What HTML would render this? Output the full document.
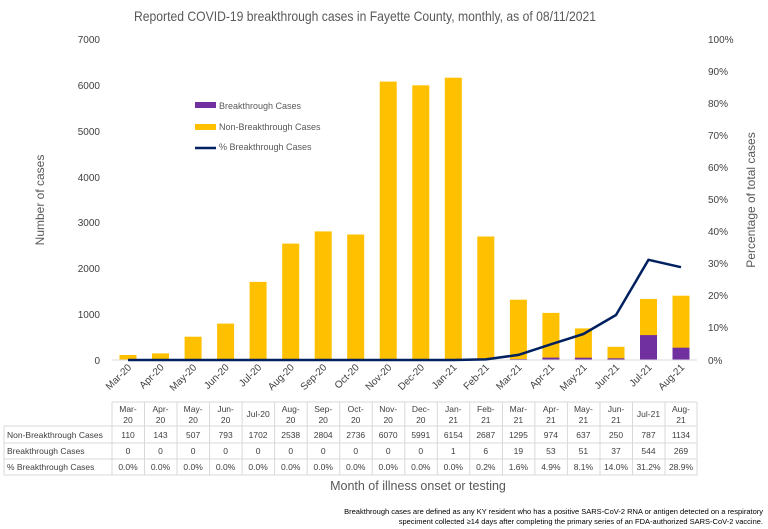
<!DOCTYPE html>
<html><head><meta charset="utf-8"><style>
html,body{margin:0;padding:0;background:#fff;}
svg{display:block;font-family:"Liberation Sans",sans-serif;}
</style></head><body>
<svg width="768" height="529" viewBox="0 0 768 529" xmlns="http://www.w3.org/2000/svg">
<rect width="768" height="529" fill="#fff"/>
<text x="365" y="21" font-size="14" fill="#595959" text-anchor="middle" textLength="462" lengthAdjust="spacingAndGlyphs">Reported COVID-19 breakthrough cases in Fayette County, monthly, as of 08/11/2021</text>
<g font-size="10" fill="#404040" text-anchor="end">
<text x="100" y="43">7000</text><text x="100" y="89">6000</text><text x="100" y="135">5000</text><text x="100" y="181">4000</text><text x="100" y="226">3000</text><text x="100" y="272">2000</text><text x="100" y="318">1000</text><text x="100" y="364">0</text>
</g>
<g font-size="10" fill="#404040">
<text x="708" y="43">100%</text><text x="708" y="75">90%</text><text x="708" y="107">80%</text><text x="708" y="139">70%</text><text x="708" y="171">60%</text><text x="708" y="203">50%</text><text x="708" y="235">40%</text><text x="708" y="267">30%</text><text x="708" y="299">20%</text><text x="708" y="331">10%</text><text x="708" y="364">0%</text>
</g>
<text transform="translate(44,200) rotate(-90)" font-size="12" fill="#595959" text-anchor="middle">Number of cases</text>
<text transform="translate(755,200) rotate(-90)" font-size="12" fill="#595959" text-anchor="middle">Percentage of total cases</text>
<g fill="#FFC000">
<rect x="119.5" y="355" width="17" height="5"/>
<rect x="152" y="353.4" width="17" height="6.6"/>
<rect x="184.6" y="336.7" width="17" height="23.3"/>
<rect x="217.1" y="323.6" width="17" height="36.4"/>
<rect x="249.6" y="281.9" width="17" height="78.1"/>
<rect x="282.2" y="243.6" width="17" height="116.4"/>
<rect x="314.7" y="231.4" width="17" height="128.6"/>
<rect x="347.2" y="234.5" width="17" height="125.5"/>
<rect x="379.7" y="81.6" width="17" height="278.4"/>
<rect x="412.3" y="85.3" width="17" height="274.7"/>
<rect x="444.8" y="77.7" width="17" height="282.3"/>
<rect x="477.3" y="236.5" width="17" height="123.5"/>
<rect x="509.9" y="299.7" width="17" height="60.3"/>
<rect x="542.4" y="312.9" width="17" height="47.1"/>
<rect x="574.9" y="328.4" width="17" height="31.6"/>
<rect x="607.5" y="346.8" width="17" height="13.2"/>
<rect x="640" y="299" width="17" height="61"/>
<rect x="672.5" y="295.7" width="17" height="64.3"/>
</g>
<g fill="#7030A0">
<rect x="509.9" y="359.1" width="17" height="0.9"/>
<rect x="542.4" y="357.6" width="17" height="2.4"/>
<rect x="574.9" y="357.7" width="17" height="2.3"/>
<rect x="607.5" y="358.3" width="17" height="1.7"/>
<rect x="640" y="335.1" width="17" height="24.9"/>
<rect x="672.5" y="347.7" width="17" height="12.3"/>
</g>
<line x1="112" y1="360" x2="697" y2="360" stroke="#d9d9d9" stroke-width="1"/>
<polyline fill="none" stroke="#002060" stroke-width="2.5" stroke-linejoin="round" points="128,360 453.3,360 485.8,359.4 518.4,354.9 550.9,344.3 583.4,334 616,315 648.5,259.8 681,267.2"/>
<g font-size="10" fill="#404040" text-anchor="end">
<text transform="translate(132,368) rotate(-45)">Mar-20</text>
<text transform="translate(164.5,368) rotate(-45)">Apr-20</text>
<text transform="translate(197.1,368) rotate(-45)">May-20</text>
<text transform="translate(229.6,368) rotate(-45)">Jun-20</text>
<text transform="translate(262.1,368) rotate(-45)">Jul-20</text>
<text transform="translate(294.7,368) rotate(-45)">Aug-20</text>
<text transform="translate(327.2,368) rotate(-45)">Sep-20</text>
<text transform="translate(359.7,368) rotate(-45)">Oct-20</text>
<text transform="translate(392.2,368) rotate(-45)">Nov-20</text>
<text transform="translate(424.8,368) rotate(-45)">Dec-20</text>
<text transform="translate(457.3,368) rotate(-45)">Jan-21</text>
<text transform="translate(489.8,368) rotate(-45)">Feb-21</text>
<text transform="translate(522.4,368) rotate(-45)">Mar-21</text>
<text transform="translate(554.9,368) rotate(-45)">Apr-21</text>
<text transform="translate(587.4,368) rotate(-45)">May-21</text>
<text transform="translate(620,368) rotate(-45)">Jun-21</text>
<text transform="translate(652.5,368) rotate(-45)">Jul-21</text>
<text transform="translate(685,368) rotate(-45)">Aug-21</text>
</g>
<rect x="195" y="102" width="21" height="6" fill="#7030A0"/>
<text x="219" y="109" font-size="9" fill="#595959">Breakthrough Cases</text>
<rect x="195" y="124" width="21" height="6" fill="#FFC000"/>
<text x="219" y="130" font-size="9" fill="#595959">Non-Breakthrough Cases</text>
<line x1="195" y1="148" x2="216" y2="148" stroke="#002060" stroke-width="2.5"/>
<text x="219" y="150" font-size="9" fill="#595959">% Breakthrough Cases</text>
<g stroke="#d9d9d9" stroke-width="1" fill="none">
<line x1="112" y1="402" x2="697" y2="402"/>
<line x1="4" y1="426" x2="697" y2="426"/>
<line x1="4" y1="443" x2="697" y2="443"/>
<line x1="4" y1="459" x2="697" y2="459"/>
<line x1="4" y1="475" x2="697" y2="475"/>
<line x1="4" y1="426" x2="4" y2="475"/>
<line x1="112" y1="402" x2="112" y2="475"/><line x1="144.5" y1="402" x2="144.5" y2="475"/><line x1="177" y1="402" x2="177" y2="475"/><line x1="209.6" y1="402" x2="209.6" y2="475"/><line x1="242.1" y1="402" x2="242.1" y2="475"/><line x1="274.6" y1="402" x2="274.6" y2="475"/><line x1="307.2" y1="402" x2="307.2" y2="475"/><line x1="339.7" y1="402" x2="339.7" y2="475"/><line x1="372.2" y1="402" x2="372.2" y2="475"/><line x1="404.8" y1="402" x2="404.8" y2="475"/><line x1="437.3" y1="402" x2="437.3" y2="475"/><line x1="469.8" y1="402" x2="469.8" y2="475"/><line x1="502.4" y1="402" x2="502.4" y2="475"/><line x1="534.9" y1="402" x2="534.9" y2="475"/><line x1="567.4" y1="402" x2="567.4" y2="475"/><line x1="600" y1="402" x2="600" y2="475"/><line x1="632.5" y1="402" x2="632.5" y2="475"/><line x1="665" y1="402" x2="665" y2="475"/><line x1="697" y1="402" x2="697" y2="475"/>
</g>
<g font-size="8.5" fill="#404040" text-anchor="middle">
<text x="128" y="412">Mar-</text><text x="128" y="423">20</text>
<text x="160.5" y="412">Apr-</text><text x="160.5" y="423">20</text>
<text x="193.1" y="412">May-</text><text x="193.1" y="423">20</text>
<text x="225.6" y="412">Jun-</text><text x="225.6" y="423">20</text>
<text x="258.1" y="417">Jul-20</text>
<text x="290.7" y="412">Aug-</text><text x="290.7" y="423">20</text>
<text x="323.2" y="412">Sep-</text><text x="323.2" y="423">20</text>
<text x="355.7" y="412">Oct-</text><text x="355.7" y="423">20</text>
<text x="388.2" y="412">Nov-</text><text x="388.2" y="423">20</text>
<text x="420.8" y="412">Dec-</text><text x="420.8" y="423">20</text>
<text x="453.3" y="412">Jan-</text><text x="453.3" y="423">21</text>
<text x="485.8" y="412">Feb-</text><text x="485.8" y="423">21</text>
<text x="518.4" y="412">Mar-</text><text x="518.4" y="423">21</text>
<text x="550.9" y="412">Apr-</text><text x="550.9" y="423">21</text>
<text x="583.4" y="412">May-</text><text x="583.4" y="423">21</text>
<text x="616" y="412">Jun-</text><text x="616" y="423">21</text>
<text x="648.5" y="417">Jul-21</text>
<text x="681" y="412">Aug-</text><text x="681" y="423">21</text>
</g>
<g font-size="8.5" fill="#404040">
<text x="7" y="438">Non-Breakthrough Cases</text>
<text x="7" y="454">Breakthrough Cases</text>
<text x="7" y="470">% Breakthrough Cases</text>
</g>
<g font-size="8.5" fill="#404040" text-anchor="middle">
<text x="128" y="438">110</text><text x="160.5" y="438">143</text><text x="193.1" y="438">507</text><text x="225.6" y="438">793</text><text x="258.1" y="438">1702</text><text x="290.7" y="438">2538</text><text x="323.2" y="438">2804</text><text x="355.7" y="438">2736</text><text x="388.2" y="438">6070</text><text x="420.8" y="438">5991</text><text x="453.3" y="438">6154</text><text x="485.8" y="438">2687</text><text x="518.4" y="438">1295</text><text x="550.9" y="438">974</text><text x="583.4" y="438">637</text><text x="616" y="438">250</text><text x="648.5" y="438">787</text><text x="681" y="438">1134</text>
<text x="128" y="454">0</text><text x="160.5" y="454">0</text><text x="193.1" y="454">0</text><text x="225.6" y="454">0</text><text x="258.1" y="454">0</text><text x="290.7" y="454">0</text><text x="323.2" y="454">0</text><text x="355.7" y="454">0</text><text x="388.2" y="454">0</text><text x="420.8" y="454">0</text><text x="453.3" y="454">1</text><text x="485.8" y="454">6</text><text x="518.4" y="454">19</text><text x="550.9" y="454">53</text><text x="583.4" y="454">51</text><text x="616" y="454">37</text><text x="648.5" y="454">544</text><text x="681" y="454">269</text>
<text x="128" y="470">0.0%</text><text x="160.5" y="470">0.0%</text><text x="193.1" y="470">0.0%</text><text x="225.6" y="470">0.0%</text><text x="258.1" y="470">0.0%</text><text x="290.7" y="470">0.0%</text><text x="323.2" y="470">0.0%</text><text x="355.7" y="470">0.0%</text><text x="388.2" y="470">0.0%</text><text x="420.8" y="470">0.0%</text><text x="453.3" y="470">0.0%</text><text x="485.8" y="470">0.2%</text><text x="518.4" y="470">1.6%</text><text x="550.9" y="470">4.9%</text><text x="583.4" y="470">8.1%</text><text x="616" y="470">14.0%</text><text x="648.5" y="470">31.2%</text><text x="681" y="470">28.9%</text>
</g>
<text x="418" y="490" font-size="12.5" fill="#595959" text-anchor="middle">Month of illness onset or testing</text>
<g font-size="7.5" fill="#000" text-anchor="end">
<text x="763" y="514">Breakthrough cases are defined as any KY resident who has a positive SARS-CoV-2 RNA or antigen detected on a respiratory</text>
<text x="763" y="524">speciment collected ≥14 days after completing the primary series of an FDA-authorized SARS-CoV-2 vaccine.</text>
</g>
</svg>
</body></html>
